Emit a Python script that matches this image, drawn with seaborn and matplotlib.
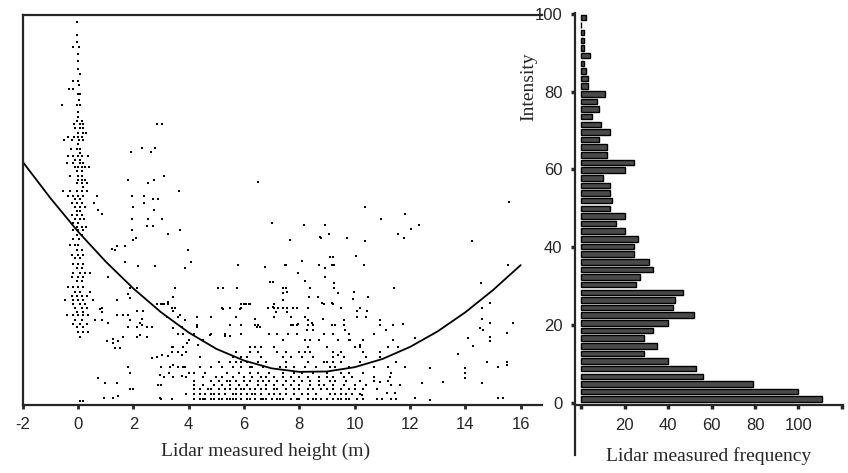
import matplotlib
matplotlib.use("Agg")
import matplotlib.pyplot as plt
import seaborn as sns
import pandas as pd

#================================
# DATA
#================================
# histogram: intensity bin centres (bottom to top) and lidar frequency per bin
intensity_bins = [0.98, 2.94, 4.90, 6.86, 8.82, 10.78, 12.75, 14.71, 16.67, 18.63,
                  20.59, 22.55, 24.51, 26.47, 28.43, 30.39, 32.35, 34.31, 36.27, 38.24,
                  40.20, 42.16, 44.12, 46.08, 48.04, 50.00, 51.96, 53.92, 55.88, 57.84,
                  59.80, 61.76, 63.73, 65.69, 67.65, 69.61, 71.57, 73.53, 75.49, 77.45,
                  79.41, 81.37, 83.33, 85.29, 87.25, 89.22, 91.18, 93.14, 95.10, 97.06,
                  99.02]
lidar_frequency = [111, 100, 79, 56, 53, 40, 29, 35, 29, 33,
                   40, 52, 42, 43, 47, 25, 27, 33, 31, 24,
                   24, 26, 20, 16, 20, 13, 14, 13, 13, 10,
                   20, 24, 12, 12, 8, 13, 9, 5, 8, 7,
                   11, 3, 3, 2, 1, 4, 1, 1, 1, 0,
                   2]

# fitted curve (height m, intensity)
curve_height = [-2, -1, 0, 1, 2, 3, 4, 5, 6, 7, 8, 9, 10, 11, 12, 13, 14, 15, 16]
curve_intensity = [61.9, 52.6, 44.0, 36.3, 29.4, 23.3, 18.1, 13.9, 10.9, 8.9,
                   8.0, 8.1, 9.2, 11.3, 14.4, 18.4, 23.3, 29.0, 35.4]

# ground returns near 0 m: (intensity, heights)
column_rows = [
    (97.9, [-0.05]), (94.5, [-0.05]), (92.6, [-0.05]), (91.4, [-0.19, 0.03]),
    (89.7, [-0.01]), (87.7, [-0.01]), (85.7, [0.01]), (84.5, [0.07]),
    (82.7, [-0.19, -0.01]), (81.6, [0.04]), (80.5, [-0.34, -0.17]), (79.3, [-0.01, 0.07]),
    (77.8, [0.04]), (76.4, [-0.57, -0.05, 0.07]), (74.8, [0.01]), (73.5, [-0.01]),
    (72.5, [-0.05, 0.13]), (71.6, [-0.15, 0.07, 0.17]), (70.5, [-0.11, 0.07, 0.19]),
    (69.4, [-0.01, 0.17, 0.29]), (68.4, [-0.35, -0.15, 0.01, 0.13]),
    (67.5, [-0.49, -0.23, 0.04, 0.19]), (66.5, [0.01]), (65.2, [-0.27, -0.05, 0.07]),
    (64.3, [0.07]), (63.5, [-0.35, -0.17, 0.01, 0.13, 0.37]), (62.4, [-0.11, 0.07]),
    (61.5, [-0.41, -0.17, 0.07, 0.19]), (60.7, [-0.11, 0.01, 0.13, 0.25, 0.41]),
    (59.6, [-0.05, 0.13]), (58.4, [-0.29, 0.01, 0.13]), (57.3, [0.01, 0.13, 0.25]),
    (56.6, [-0.05, 0.13, 0.31]), (55.5, [0.19]), (54.4, [-0.53, -0.29, -0.05, 0.13, 0.33]),
    (53.1, [-0.35, -0.17, 0.01, 0.19]), (52.4, [-0.11, 0.07]), (51.4, [-0.23, -0.05, 0.13]),
    (50.4, [-0.11, 0.07, 0.25]), (49.4, [-0.05, 0.07]), (48.3, [-0.23, -0.05, 0.13]),
    (47.2, [-0.11, 0.07, 0.22]), (46.1, [-0.17, 0.01]), (45.3, [-0.05, 0.13, 0.29]),
    (44.4, [-0.17, 0.01, 0.19]), (43.1, [-0.05, 0.13]), (42.0, [-0.20, 0.05]),
    (40.5, [-0.29, -0.11, 0.01]), (39.2, [-0.05, 0.13]), (37.9, [-0.23, 0.01, 0.19]),
    (37.1, [-0.11, 0.07]), (35.8, [-0.17, 0.01, 0.19]), (34.6, [-0.05, 0.13]),
    (33.3, [-0.17, 0.07, 0.25, 0.43]), (32.4, [-0.23, 0.01, 0.19]), (31.2, [-0.05, 0.13]),
    (29.9, [-0.35, -0.17, 0.01, 0.19]), (28.6, [-0.11, 0.07, 0.43]),
    (27.5, [-0.23, -0.05, 0.13, 0.31]), (26.4, [-0.47, -0.17, 0.01, 0.19, 0.55]),
    (25.3, [-0.17, 0.07, 0.25]), (24.3, [-0.11, 0.13, 0.31]), (23.4, [-0.05, 0.19]),
    (22.6, [-0.41, -0.17, 0.01, 0.19, 0.37]), (21.3, [-0.11, 0.13]),
    (20.2, [-0.17, 0.07, 0.31]), (19.4, [-0.05, 0.19]), (18.3, [0.01, 0.19, 0.37]),
    (17.0, [0.07]),
]

# dense low-intensity band between 3 and 11.5 m: (intensity, heights)
band_rows = [
    (1.0, [3.0, 3.4, 4.2, 4.4, 4.5, 4.6, 4.8, 4.9, 5.1, 5.2, 5.4, 5.5, 5.6, 5.7, 5.9, 6.1,
           6.2, 6.4, 6.6, 6.7, 6.8, 7.0, 7.2, 7.3, 7.4, 7.7, 7.9, 8.0, 8.3, 8.5, 8.6, 8.8,
           9.0, 9.2, 9.4, 9.5, 9.7, 9.8, 10.1, 10.3, 10.8, 11.0, 11.3, 11.5]),
    (2.4, [3.9, 4.2, 4.4, 4.6, 4.8, 4.9, 5.1, 5.3, 5.6, 5.7, 5.9, 6.1, 6.3, 6.4, 6.6, 6.9,
           7.1, 7.3, 7.5, 7.8, 8.1, 8.3, 8.6, 9.1, 9.3, 9.5, 9.7, 9.9, 10.2]),
    (3.5, [4.2, 4.4, 4.7, 4.8, 5.1, 5.3, 5.5, 5.7, 5.9, 6.0, 6.2, 6.4, 6.6, 6.8, 7.1, 7.2,
           7.5, 7.8, 8.0, 8.3, 8.5, 8.8, 9.0, 9.2, 9.5, 9.8, 10.0, 10.3, 10.8]),
    (4.6, [3.0, 4.2, 4.5, 4.9, 5.2, 5.5, 5.8, 6.1, 6.5, 6.8, 7.1, 7.4, 7.7, 8.0, 8.4, 8.7,
           8.9, 9.2, 9.6, 10.0, 10.4, 11.3]),
    (5.6, [4.2, 4.8, 5.1, 5.4, 5.5, 5.7, 6.0, 6.2, 6.5, 6.7, 6.9, 7.2, 7.5, 7.8, 8.1, 8.4,
           8.7, 9.1, 9.3, 9.7, 10.2, 10.7, 11.2]),
    (6.7, [3.1, 3.9, 4.5, 5.0, 5.2, 5.6, 6.0, 6.3, 6.6, 6.8, 7.1, 7.4, 7.7, 8.0, 8.3, 8.7,
           9.0, 9.2, 9.6, 9.9, 10.7]),
    (7.7, [3.3, 4.0, 4.2, 4.6, 5.4, 5.8, 6.2, 6.5, 6.9, 7.4, 7.8, 8.1, 8.5, 9.0, 9.5, 9.8,
           10.3, 11.3]),
    (9.3, [3.0, 3.6, 3.8, 4.4, 4.8, 5.2, 5.6, 5.9, 6.2, 6.3, 6.7, 7.3, 7.5, 7.8, 8.2, 8.6,
           9.1, 9.3, 9.8, 10.7]),
    (10.6, [5.1, 5.5, 5.7, 5.9, 6.1, 6.5, 6.8, 7.5, 8.3, 8.9, 9.0, 9.2, 9.5, 10.2, 11.5]),
    (11.8, [4.4, 5.6, 5.9, 6.1, 6.6, 7.4, 7.7, 8.1, 8.5, 9.2, 9.6, 10.4, 10.9]),
    (13.1, [3.4, 3.6, 3.9, 5.7, 6.2, 6.5, 7.2, 7.5, 8.0, 8.2, 8.4, 9.2, 9.5, 10.3, 10.9]),
    (14.4, [3.4, 3.8, 6.2, 6.4, 6.6, 7.1, 8.3, 9.0, 10.0, 10.2, 11.2]),
    (16.1, [4.0, 4.5, 7.4, 8.2, 8.4, 8.7, 9.4, 9.8, 10.3, 11.4]),
    (17.8, [3.6, 3.8, 4.2, 4.8, 5.3, 5.9, 6.9, 7.2, 7.6, 7.9, 8.9, 9.2, 9.8, 10.7]),
    (20.0, [4.3, 5.5, 5.9, 6.4, 6.5, 7.7, 7.9, 8.3, 8.5, 9.3, 9.6, 10.9, 11.4]),
    (22.1, [3.2, 3.6, 4.3, 4.8, 5.7, 7.1, 7.7, 8.2, 10.1, 10.4]),
    (24.3, [3.4, 3.5, 5.2, 5.5, 5.9, 7.1, 7.4, 7.9, 8.3, 9.5, 10.2]),
    (25.5, [3.0, 3.1, 5.9, 6.0, 6.2, 7.1, 8.9, 9.2]),
]

# scattered returns between 0.5 and 8 m: (height, intensity)
side_points = [
    (1.90, 64.4), (2.32, 65.5), (2.64, 64.4), (2.78, 65.5), (2.84, 71.6), (3.02, 71.6),
    (3.12, 58.4), (2.54, 56.6), (2.76, 57.3), (1.82, 57.3), (3.66, 54.4), (1.94, 53.1),
    (2.39, 53.1), (2.72, 52.4), (2.90, 52.4), (2.39, 51.4), (1.98, 50.4), (2.76, 49.5),
    (1.94, 47.2), (2.54, 47.2), (3.02, 47.2), (2.48, 45.5), (2.72, 45.5), (1.94, 44.4),
    (3.69, 44.4), (3.26, 43.3), (2.10, 42.3), (6.52, 56.7), (7.00, 46.3), (0.67, 53.1),
    (0.59, 51.4), (0.88, 48.4), (0.73, 49.5), (1.22, 39.5), (1.40, 40.3), (1.70, 40.3),
    (1.70, 36.3), (2.16, 35.2), (2.78, 35.2), (1.10, 32.4), (1.88, 29.4), (2.12, 29.4),
    (3.51, 29.4), (1.82, 28.0), (1.88, 26.9), (2.84, 25.4), (3.02, 25.4), (3.26, 25.4),
    (1.40, 26.4), (0.86, 24.3), (0.86, 23.4), (1.42, 22.6), (1.64, 22.6), (1.82, 22.6),
    (2.12, 23.7), (2.36, 23.7), (3.44, 23.7), (0.61, 21.3), (0.86, 21.3), (1.10, 20.5),
    (1.88, 21.3), (2.24, 20.5), (2.30, 20.0), (1.64, 17.0), (2.24, 17.5), (1.25, 16.4),
    (1.34, 39.3), (2.00, 41.8), (0.80, 24.1), (2.30, 21.5), (1.82, 19.6), (2.12, 19.6),
    (2.48, 19.6), (2.66, 19.6), (1.04, 15.9), (1.28, 15.3), (1.46, 15.9), (1.52, 14.2),
    (1.34, 14.2), (2.12, 17.0), (2.48, 17.0), (2.66, 11.5), (2.84, 11.9), (3.02, 12.3),
    (1.82, 9.3), (1.88, 7.6), (0.73, 6.3), (0.98, 5.1), (1.40, 5.2), (1.88, 3.5),
    (2.00, 3.5), (0.95, 1.4), (1.28, 1.4), (1.46, 1.9), (0.07, 0.6), (0.19, 0.6),
    (2.90, 4.6), (2.96, 1.2), (3.26, 12.1), (3.44, 27.3), (3.26, 25.9), (3.87, 34.6),
    (4.07, 36.3), (3.99, 39.3), (3.69, 22.6), (3.87, 21.3), (3.44, 19.2), (3.75, 19.6),
    (3.93, 15.3), (3.44, 14.5), (3.75, 12.3), (3.44, 9.8), (3.87, 9.2), (3.44, 6.8),
    (3.75, 7.0), (2.96, 7.2), (3.32, 9.3), (4.29, 19.6), (4.77, 17.5), (4.35, 14.9),
    (5.07, 29.4), (5.25, 29.4), (5.74, 29.4), (5.25, 24.1), (5.85, 24.1), (6.07, 25.4),
    (6.19, 25.4), (5.31, 17.2), (5.49, 17.2), (6.40, 21.5), (6.58, 19.6), (6.46, 19.6),
    (6.88, 24.3), (7.06, 24.7), (7.16, 23.4), (7.24, 24.3), (6.94, 31.1), (7.04, 31.1),
    (6.76, 35.0), (7.52, 29.4), (7.54, 28.6), (7.40, 26.4), (7.54, 23.4), (7.78, 24.3),
    (7.66, 41.8), (7.48, 35.4), (5.79, 35.4),
]

# scattered returns beyond 7.5 m: (height, intensity)
right_points = [
    (10.37, 50.4), (10.94, 47.3), (11.82, 48.4), (8.17, 45.7), (8.93, 45.6), (9.08, 43.4),
    (8.77, 42.4), (9.71, 42.4), (10.37, 41.7), (11.58, 43.4), (11.78, 42.3), (12.02, 44.6),
    (12.34, 45.6), (14.23, 41.7), (15.59, 51.6), (9.11, 37.6), (9.23, 37.6), (10.05, 37.7),
    (8.08, 36.5), (7.52, 35.4), (8.72, 35.4), (9.17, 35.4), (9.25, 35.4), (10.35, 35.4),
    (8.93, 34.6), (7.96, 33.5), (8.93, 32.4), (8.20, 31.3), (9.25, 30.7), (7.40, 29.6),
    (8.38, 29.6), (9.25, 29.6), (11.43, 29.4), (7.54, 28.4), (9.38, 28.3), (9.98, 28.4),
    (8.36, 27.3), (8.69, 27.3), (10.49, 27.3), (9.95, 26.7), (8.82, 25.6), (9.17, 25.6),
    (7.57, 24.3), (15.53, 35.4), (14.55, 30.7), (14.89, 25.6), (14.59, 24.3), (8.75, 42.5),
    (7.42, 28.3), (10.07, 23.7), (10.43, 23.7), (8.32, 21.3), (8.44, 20.6), (8.87, 21.5),
    (9.17, 20.0), (9.65, 18.7), (9.61, 21.3), (7.78, 20.0), (7.96, 20.2), (8.26, 18.7),
    (8.50, 18.7), (10.92, 21.3), (11.13, 18.7), (11.76, 20.3), (14.59, 21.5), (14.53, 19.2),
    (14.63, 18.7), (14.89, 20.5), (14.11, 16.6), (14.89, 17.0), (14.89, 15.8), (14.29, 14.6),
    (15.74, 20.5), (15.49, 17.9), (10.19, 14.9), (9.41, 12.3), (9.83, 16.2), (11.58, 14.5),
    (12.18, 16.6), (13.75, 12.6), (14.77, 10.6), (15.49, 10.6), (15.49, 9.8), (15.19, 9.3),
    (11.82, 9.3), (12.72, 8.9), (11.22, 9.3), (11.28, 6.8), (13.99, 7.6), (13.99, 6.3),
    (14.59, 5.2), (13.20, 5.5), (12.42, 5.2), (11.64, 4.6), (10.92, 5.5), (11.16, 2.5),
    (11.46, 2.5), (12.18, 1.4), (12.72, 0.8), (15.19, 1.4), (15.35, 1.4), (10.25, 2.0),
    (13.99, 8.9),
]

#================================
# BUILD TABLES
#================================
rows = []
for level, heights in column_rows + band_rows:
    for h in heights:
        rows.append((h, level))
rows += side_points + right_points
points = pd.DataFrame(rows, columns=["height", "intensity"])

hist = pd.DataFrame({"intensity": intensity_bins, "frequency": lidar_frequency})

#================================
# FIGURE
#================================
sns.set_style("ticks")
plt.rcParams["font.family"] = ["Liberation Sans", "DejaVu Sans"]
plt.rcParams["axes.unicode_minus"] = False
serif = "Liberation Serif"

fig = plt.figure(figsize=(8.48, 4.73), dpi=100)
ax = fig.add_axes([0.0268, 0.1438, 0.612, 0.8245])
ax_bar = fig.add_axes([0.678, 0.038, 0.316, 0.934])

# scatter + fitted curve
sns.scatterplot(data=points, x="height", y="intensity", ax=ax, marker="s", s=4,
                color="black", linewidth=0, legend=False)
sns.lineplot(x=curve_height, y=curve_intensity, ax=ax, color="black", linewidth=1.3)

ax.set_xlim(-2, 16.76)
ax.set_ylim(-0.5, 99.6)
ax.set_xticks(range(-2, 17, 2))
ax.set_yticks([])
ax.spines["right"].set_visible(False)
for side in ["left", "bottom", "top"]:
    ax.spines[side].set_linewidth(1.6)
ax.tick_params(axis="x", direction="out", length=3, width=2, labelsize=12, pad=6)
ax.set_ylabel("")
ax.set_xlabel("Lidar measured height (m)", family=serif, fontsize=14)
ax.xaxis.set_label_coords(0.467, -0.097)

# histogram of intensity
sns.barplot(data=hist, x="frequency", y="intensity", orient="h", native_scale=True,
            ax=ax_bar, color="#4a4a4a", saturation=1, edgecolor="black", linewidth=1,
            width=0.72, errorbar=None)

ax_bar.set_xlim(-3, 120.5)
ax_bar.set_ylim(-13.35, 100.1)
ax_bar.spines["bottom"].set_position(("data", -0.6))
ax_bar.spines["right"].set_visible(False)
ax_bar.spines["top"].set_visible(False)
for side in ["left", "bottom"]:
    ax_bar.spines[side].set_linewidth(1.6)
ax_bar.set_xticks([0, 20, 40, 60, 80, 100, 120])
ax_bar.set_xticklabels(["", "20", "40", "60", "80", "100", ""])
ax_bar.set_yticks([0, 20, 40, 60, 80, 100])
ax_bar.tick_params(direction="out", length=3, width=2.5, labelsize=12, pad=6)
ax_bar.set_xlabel("Lidar measured frequency", family=serif, fontsize=14)
ax_bar.xaxis.set_label_coords(0.5, 0.018)
ax_bar.set_ylabel("Intensity", family=serif, fontsize=14)
ax_bar.yaxis.set_label_coords(-0.14, 0.833)

fig.savefig("out.png", dpi=100)
